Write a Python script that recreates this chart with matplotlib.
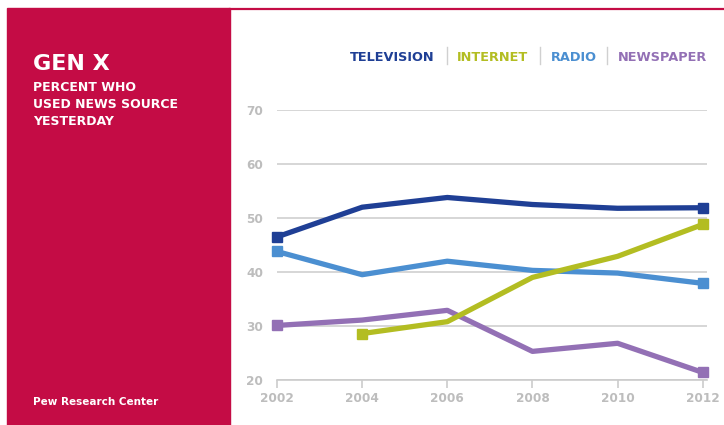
import matplotlib.pyplot as plt
from matplotlib.patches import Rectangle
from matplotlib.lines import Line2D

plt.rcParams['font.family'] = ['DejaVu Sans']

years = [2002, 2004, 2006, 2008, 2010, 2012]
television = [46.5, 52.0, 53.8, 52.5, 51.8, 51.9]
internet_years = [2004, 2006, 2008, 2010, 2012]
internet = [28.6, 30.8, 39.0, 42.9, 48.8]
radio = [43.8, 39.5, 42.0, 40.3, 39.8, 37.9]
newspaper = [30.1, 31.1, 32.9, 25.3, 26.8, 21.4]

c_tv = "#1f3f95"
c_net = "#b3bd22"
c_radio = "#4b8fd1"
c_paper = "#9370b5"
c_red = "#c40c45"
c_grey = "#bdbdbd"

W, H = 724, 425
fig = plt.figure(figsize=(W / 100, H / 100), dpi=100)

# left red panel + thin top rule
fig.patches.append(Rectangle((7 / W, 0), 223 / W, 1 - 8 / H,
                             transform=fig.transFigure, color=c_red, zorder=0))
fig.lines.append(Line2D([230 / W, 1], [1 - 9 / H, 1 - 9 / H], transform=fig.transFigure,
                        color=c_red, lw=1.6))

fig.text(33 / W, 1 - 70 / H, "GEN X", color="white", fontsize=16, fontweight="bold")
for i, line in enumerate(["PERCENT WHO", "USED NEWS SOURCE", "YESTERDAY"]):
    fig.text(33 / W, 1 - (91 + 17 * i) / H, line, color="white", fontsize=9, fontweight="bold")
fig.text(33 / W, 1 - 405 / H, "Pew Research Center", color="white", fontsize=7.5, fontweight="bold")

# legend across the top
legend = [("TELEVISION", c_tv, 392.5), ("INTERNET", c_net, 493), ("RADIO", c_radio, 573.5),
          ("NEWSPAPER", c_paper, 662.5)]
for label, col, cx in legend:
    fig.text(cx / W, 1 - 61 / H, label, color=col, fontsize=9.3, fontweight="bold", ha="center")
for sx in [447, 540, 607]:
    fig.lines.append(Line2D([sx / W, sx / W], [1 - 64 / H, 1 - 47 / H], transform=fig.transFigure,
                            color="#d0d0d0", lw=1))

ax = fig.add_axes([277 / W, 45 / H, 430 / W, 270 / H])
ax.set_xlim(2002, 2012.1)
ax.set_ylim(20, 70)

ax.set_yticks([20, 30, 40, 50, 60, 70])
ax.yaxis.grid(True, color="#cccccc", lw=1.1)
ax.set_axisbelow(True)
ax.set_xticks(years)
for s in ["top", "right", "left"]:
    ax.spines[s].set_visible(False)
ax.spines["bottom"].set_color("#cccccc")
ax.spines["bottom"].set_linewidth(1.2)
ax.tick_params(axis="y", length=0, pad=10, labelsize=8.7, labelcolor=c_grey)
ax.tick_params(axis="x", length=6, width=1.2, color="#cccccc", pad=3, labelsize=8.7, labelcolor=c_grey)
for t in ax.get_xticklabels() + ax.get_yticklabels():
    t.set_fontweight("bold")

series = [(years, newspaper, c_paper), (years, radio, c_radio),
          (internet_years, internet, c_net), (years, television, c_tv)]
for xs, ys, col in series:
    ax.plot(xs, ys, color=col, lw=3.8, solid_capstyle="butt", solid_joinstyle="round",
            clip_on=False, zorder=3)
    ax.plot([xs[0], xs[-1]], [ys[0], ys[-1]], ls="none", marker="s", ms=7, color=col,
            clip_on=False, zorder=4)

fig.savefig("out.png", dpi=100)
